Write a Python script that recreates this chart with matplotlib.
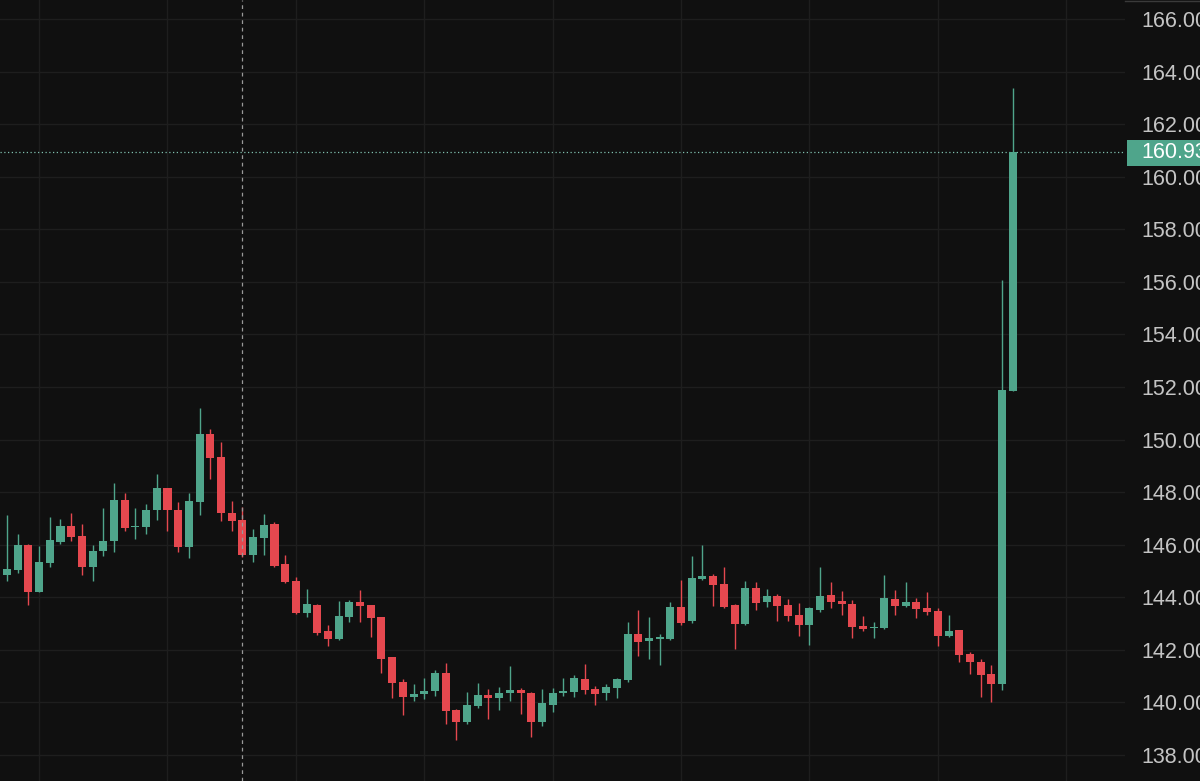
import matplotlib
matplotlib.use("Agg")
import matplotlib.pyplot as plt
import matplotlib.transforms as mtransforms
from matplotlib.patches import Rectangle
from matplotlib.lines import Line2D
import numpy as np

opens = [145.68, 144.85, 145.04, 145.99, 144.20, 145.30, 146.10, 146.71, 146.33, 145.15,
         145.76, 146.14, 147.70, 146.67, 146.67, 147.32, 148.16, 147.32, 145.91, 147.62,
         150.21, 149.33, 147.21, 146.94, 145.61, 146.25, 146.79, 145.27, 144.62, 143.40,
         143.71, 142.72, 142.41, 143.25, 143.82, 143.71, 143.25, 141.73, 140.78, 140.21,
         140.32, 140.43, 141.12, 139.71, 139.26, 139.86, 140.28, 140.17, 140.36, 140.47,
         140.36, 139.26, 139.90, 140.36, 140.40, 140.89, 140.51, 140.36, 140.55, 140.85,
         142.60, 142.34, 142.41, 142.41, 143.63, 143.10, 144.70, 144.81, 144.51, 143.71,
         142.99, 144.35, 143.82, 144.05, 143.71, 143.33, 142.95, 143.52, 144.09, 143.86,
         143.75, 142.91, 142.83, 142.83, 143.94, 143.67, 143.82, 143.60, 143.48, 142.53,
         142.76, 141.84, 141.54, 141.08, 140.70, 151.85]
closes = [144.77, 145.08, 145.99, 144.20, 145.34, 146.18, 146.71, 146.29, 145.15, 145.76,
          146.14, 147.70, 146.64, 146.71, 147.32, 148.16, 147.32, 145.91, 147.66, 150.21,
          149.30, 147.21, 146.90, 145.61, 146.29, 146.75, 145.19, 144.58, 143.40, 143.75,
          142.64, 142.41, 143.29, 143.82, 143.67, 143.21, 141.65, 140.74, 140.21, 140.32,
          140.43, 141.12, 139.67, 139.26, 139.90, 140.28, 140.17, 140.36, 140.47, 140.36,
          139.26, 139.98, 140.36, 140.43, 140.93, 140.47, 140.32, 140.59, 140.89, 142.60,
          142.30, 142.45, 142.49, 143.63, 143.02, 144.73, 144.81, 144.47, 143.63, 142.99,
          144.35, 143.78, 144.05, 143.67, 143.29, 142.95, 143.60, 144.05, 143.82, 143.75,
          142.87, 142.80, 142.87, 143.97, 143.67, 143.82, 143.56, 143.44, 142.53, 142.72,
          141.80, 141.54, 141.04, 140.70, 151.89, 160.93]
highs = [146.00, 147.13, 146.41, 146.03, 145.95, 147.05, 146.98, 147.20, 146.79, 145.99,
         147.40, 148.35, 147.97, 147.40, 147.55, 148.69, 148.16, 147.62, 147.97, 151.20,
         150.40, 149.90, 147.66, 147.43, 146.60, 147.17, 146.85, 145.61, 144.77, 144.32,
         143.75, 142.95, 143.86, 143.90, 144.28, 143.71, 143.25, 141.73, 140.89, 140.70,
         140.93, 141.23, 141.50, 139.75, 140.40, 140.74, 140.51, 140.59, 141.38, 140.55,
         140.40, 140.51, 140.55, 140.93, 141.04, 141.46, 140.63, 140.70, 140.93, 143.06,
         143.52, 143.25, 142.60, 143.82, 144.66, 145.57, 145.99, 144.89, 145.15, 143.75,
         144.62, 144.58, 144.32, 144.12, 143.94, 143.78, 143.63, 145.15, 144.58, 144.24,
         143.90, 143.29, 143.06, 144.85, 144.28, 144.58, 143.97, 144.20, 143.60, 143.33,
         142.76, 141.92, 141.65, 141.42, 156.07, 163.37]
lows = [144.60, 144.62, 144.92, 143.71, 144.20, 145.15, 146.03, 146.14, 144.85, 144.62,
        145.57, 145.72, 146.52, 146.22, 146.41, 146.94, 146.52, 145.72, 145.50, 147.13,
        148.50, 146.90, 146.52, 145.53, 145.34, 145.61, 145.15, 144.55, 143.37, 143.25,
        142.57, 142.14, 142.38, 143.06, 143.06, 142.49, 141.12, 140.17, 139.52, 140.05,
        140.13, 140.24, 139.18, 138.57, 139.18, 139.79, 139.37, 139.71, 140.05, 139.56,
        138.69, 139.10, 139.63, 140.24, 140.21, 140.32, 139.90, 140.09, 140.17, 140.78,
        141.77, 141.65, 141.42, 142.38, 142.95, 143.02, 144.66, 143.67, 143.60, 142.03,
        142.95, 143.52, 143.63, 143.10, 143.10, 142.53, 142.18, 143.44, 143.60, 143.33,
        142.45, 142.72, 142.45, 142.80, 143.33, 143.63, 143.21, 143.33, 142.15, 142.50,
        141.54, 141.08, 140.21, 140.02, 140.47, 151.85]

y_ticks = [138, 140, 142, 144, 146, 148, 150, 152, 154, 156, 158, 160, 162, 164, 166]
last_price = 160.93
crosshair_index = 23
vgrid_idx = [4, 16, 28, 40, 52, 64, 76, 88, 100]

BG = "#101010"
GRID = "#1e1e1e"
UP = "#4fa58b"
DOWN = "#e5484f"
TXT = "#c4c4c4"
FS = 15.5

fig = plt.figure(figsize=(12, 7.81), dpi=100, facecolor=BG)
ax = fig.add_axes([0, 0, 1125 / 1200, 1])
ax.set_facecolor(BG)

o = np.array(opens); c = np.array(closes); h = np.array(highs); l = np.array(lows)
x = np.arange(len(o))
up = c >= o
cols = np.where(up, UP, DOWN)

ax.vlines(x, l, h, colors=cols, linewidth=1.0, zorder=3)
bottoms = np.minimum(o, c)
heights = np.maximum(np.abs(c - o), 0.05)
ax.bar(x, heights, bottom=bottoms, width=0.75, color=cols, edgecolor='none', zorder=4)

ax.set_xlim(0.346, 105.49)
ax.set_ylim(137.01, 166.723)

ax.set_xticks(vgrid_idx)
ax.set_xticklabels([])
ax.set_yticks(y_ticks)
ax.set_yticklabels([f"{v:.2f}" for v in y_ticks])
ax.yaxis.tick_right()
ax.tick_params(axis='y', length=0, pad=11.5, labelsize=FS, labelcolor=TXT)
ax.tick_params(axis='x', length=0)
for lab in ax.get_yticklabels():
    lab.set_fontfamily("Liberation Sans")
ax.grid(True, color=GRID, linewidth=1, zorder=0)
for s in ax.spines.values():
    s.set_visible(False)

ax.axvline(crosshair_index, color="#9a9a9a", linestyle=(0, (3, 3)), linewidth=0.9, zorder=5)
ax.axhline(last_price, color="#7fbfae", linestyle=(0, (1, 2)), linewidth=0.9, zorder=2)

# thin top border over the price scale
fig.lines.append(Line2D([1125 / 1200, 1], [0.999, 0.999], transform=fig.transFigure,
                        color="#3a3a3a", linewidth=1))

trans = mtransforms.blended_transform_factory(fig.transFigure, ax.transData)
rect = Rectangle((1127 / 1200, last_price - 0.52), 73 / 1200, 1.0, transform=trans,
                 facecolor=UP, edgecolor='none', clip_on=False, zorder=10)
fig.patches.append(rect)
fig.text(1141 / 1200, last_price, f"{last_price:.2f}", transform=trans, color="white",
         fontsize=FS, family="Liberation Sans", va="center", ha="left", zorder=11)

fig.savefig("out.png", dpi=100, facecolor=BG)
